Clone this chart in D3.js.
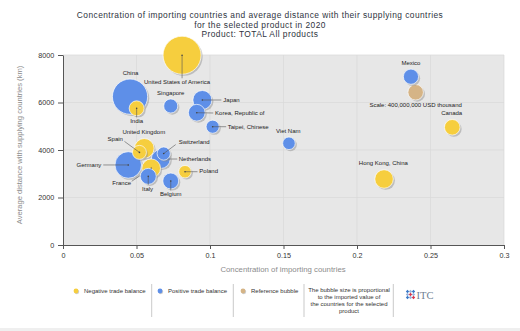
<!DOCTYPE html>
<html><head><meta charset="utf-8">
<script src="https://cdn.jsdelivr.net/npm/d3@7"></script>
<style>
body{margin:0;background:#fff;}
svg{display:block;font-family:"Liberation Sans",Arial,sans-serif;}
</style>
</head><body><svg id="c" width="520" height="331"></svg>
<script>
// ---- data ----
const countries = ["United States of America","China","Germany","Japan","United Kingdom","Netherlands","France","Hong Kong, China","Korea, Republic of","Italy","Belgium","Canada","Mexico","India","Singapore","Spain","Switzerland","Taipei, Chinese","Viet Nam","Poland","Scale: 400,000,000 USD thousand"];
const concentration = [0.081,0.0456,0.0444,0.0948,0.0553,0.0665,0.0600,0.2184,0.0910,0.0580,0.0733,0.2648,0.2367,0.0501,0.0733,0.0520,0.0685,0.1018,0.1537,0.0830,0.2399];
const distance = [7990,6245,3370,6105,4070,3620,3230,2779,5570,2890,2695,4956,7086,5756,5853,3900,3850,4981,4282,3086,6430];
const importValue = [2400,2060,1170,600,640,595,580,570,467,426,420,405,383,370,330,325,290,286,262,260,400]; // billion USD
const balance = ["neg","pos","pos","pos","neg","pos","neg","neg","pos","pos","pos","neg","pos","neg","pos","neg","pos","pos","pos","neg","ref"];
const xTicks = [0,0.05,0.1,0.15,0.2,0.25,0.3];
const yTicks = [0,2000,4000,6000,8000];
const titleLines = ["Concentration of importing countries and average distance with their supplying countries","for the selected product in 2020","Product: TOTAL All products"];
const legendItems = [["neg","Negative trade balance"],["pos","Positive trade balance"],["ref","Reference bubble"]];
const noteLines = ["The bubble size is proportional","to the imported value of","the countries for the selected","product"];

// ---- layout (label placement, px offsets from bubble centre) ----
const labelLayout = {
  "United States of America":{dx:-5,dy:27,a:"middle",l:[0,23]},
  "China":{dx:0.5,dy:-24,a:"middle"},
  "India":{dx:0,dy:12.5,a:"middle",l:[0,9]},
  "Singapore":{dx:0,dy:-13.3,a:"middle"},
  "Japan":{dx:21,dy:0.3,a:"start",l:[19,0]},
  "Korea, Republic of":{dx:18.3,dy:0.3,a:"start",l:[16.5,0.3]},
  "Taipei, Chinese":{dx:15,dy:0,a:"start",l:[13.5,0]},
  "United Kingdom":{dx:-0.5,dy:-16.5,a:"middle"},
  "Spain":{dx:-16.5,dy:-13,a:"end",l:[-15,-11]},
  "Switzerland":{dx:15,dy:-11.5,a:"start",l:[12,-9]},
  "Netherlands":{dx:18,dy:0,a:"start",l:[16.5,0]},
  "Germany":{dx:-27,dy:0,a:"end",l:[-25,0]},
  "France":{dx:-29.5,dy:14.7,a:"middle",l:[-19.5,13]},
  "Italy":{dx:-0.7,dy:12.3,a:"middle",l:[0,8.5]},
  "Belgium":{dx:0,dy:13.3,a:"middle",l:[0,9.5]},
  "Poland":{dx:14.3,dy:-0.5,a:"start",l:[12.5,0]},
  "Viet Nam":{dx:-0.7,dy:-12.6,a:"middle"},
  "Mexico":{dx:0,dy:-13.4,a:"middle"},
  "Scale: 400,000,000 USD thousand":{dx:0,dy:12.7,a:"middle"},
  "Canada":{dx:-0.6,dy:-14.6,a:"middle"},
  "Hong Kong, China":{dx:-0.7,dy:-15.7,a:"middle"}
};
const colors = {neg:"#F6CE3E",pos:"#5E8FE8",ref:"#D5B486"};

const svg = d3.select("#c");
const M = {l:63,r:504,t:55,b:245};
const x = d3.scaleLinear().domain([0,0.3]).range([M.l,M.r]);
const y = d3.scaleLinear().domain([0,8000]).range([M.b,M.t]);
const r = d3.scaleSqrt().domain([0,2400]).range([0,19]);

// title
svg.append("g").selectAll("text").data(titleLines).join("text")
  .attr("x",260).attr("y",(d,i)=>17.8+i*9.8).attr("text-anchor","middle")
  .attr("font-size",8.4).attr("letter-spacing",0.45).attr("fill","#2e3340").text(d=>d);

// plot background
svg.append("rect").attr("x",M.l).attr("y",M.t).attr("width",M.r-M.l).attr("height",M.b-M.t).attr("fill","#e7e7e7");

// grid
svg.append("g").selectAll("line").data(xTicks.slice(1)).join("line")
  .attr("x1",d=>x(d)).attr("x2",d=>x(d)).attr("y1",M.t).attr("y2",M.b)
  .attr("stroke","#d9d9d9").attr("stroke-width",0.7);
svg.append("g").selectAll("line").data(yTicks.slice(1)).join("line")
  .attr("y1",d=>y(d)).attr("y2",d=>y(d)).attr("x1",M.l).attr("x2",M.r)
  .attr("stroke","#d9d9d9").attr("stroke-width",0.7);

// axes
const xAxis = svg.append("g").attr("transform",`translate(0,${M.b})`)
  .call(d3.axisBottom(x).tickValues(xTicks).tickFormat(d=>String(d)).tickSize(4).tickSizeOuter(0));
const yAxis = svg.append("g").attr("transform",`translate(${M.l},0)`)
  .call(d3.axisLeft(y).tickValues(yTicks).tickFormat(d=>String(d)).tickSize(5).tickSizeOuter(0));
[xAxis,yAxis].forEach(g=>{
  g.select(".domain").attr("stroke","#555").attr("stroke-width",1);
  g.selectAll(".tick line").attr("stroke","#555");
  g.selectAll(".tick text").attr("font-family","Liberation Sans, Arial, sans-serif").attr("font-size",7.2).attr("fill","#333");
});
xAxis.selectAll(".tick text").attr("dy","0.9em");
yAxis.selectAll(".tick text").attr("dx","-0.1em");

// axis titles
svg.append("text").attr("x",283).attr("y",272).attr("text-anchor","middle")
  .attr("font-size",7.8).attr("fill","#8c8c8c").text("Concentration of importing countries");
svg.append("text").attr("transform","translate(22,145) rotate(-90)").attr("text-anchor","middle")
  .attr("font-size",7.6).attr("fill","#8c8c8c").text("Average distance with supplying countries (km)");

// bubbles
const data = countries.map((c,i)=>({name:c,cx:concentration[i],cy:distance[i],v:importValue[i],b:balance[i]}));
const ordered = d3.sort(data,(a,b)=>d3.descending(a.v,b.v));
const bg = svg.append("g");
ordered.forEach(d=>{
  const g = bg.append("g").attr("transform",`translate(${x(d.cx)},${y(d.cy)})`);
  const rr = r(d.v);
  g.append("circle").attr("cx",1.6).attr("cy",1.6).attr("r",rr).attr("fill","#8a8a8a").attr("opacity",0.45);
  g.append("circle").attr("r",rr).attr("fill",colors[d.b]).attr("stroke","#ffffff").attr("stroke-opacity",0.85).attr("stroke-width",0.8);
  const L = labelLayout[d.name];
  if(L && L.l){
    g.append("line").attr("x1",0).attr("y1",0).attr("x2",L.l[0]).attr("y2",L.l[1]).attr("stroke","#555").attr("stroke-width",0.6);
    g.append("circle").attr("r",0.8).attr("fill","#444");
  }
});
// labels
svg.append("g").selectAll("text").data(data).join("text")
  .attr("x",d=>x(d.cx)+labelLayout[d.name].dx)
  .attr("y",d=>y(d.cy)+labelLayout[d.name].dy)
  .attr("dy","0.35em")
  .attr("text-anchor",d=>labelLayout[d.name].a)
  .attr("font-size",6).attr("fill","#222").text(d=>d.name);

// legend
const lg = svg.append("g");
const legX = [76,160,243];
legendItems.forEach(([k,t],i)=>{
  lg.append("circle").attr("cx",legX[i]+0.8).attr("cy",291.8).attr("r",2.4).attr("fill","#999").attr("opacity",0.5);
  lg.append("circle").attr("cx",legX[i]).attr("cy",291).attr("r",2.4).attr("fill",colors[k]);
  lg.append("text").attr("x",legX[i]+8).attr("y",291).attr("dy","0.35em").attr("font-size",6).attr("fill","#333").text(t);
});
[151.7,233.3,304,393.3].forEach(sx=>{
  lg.append("line").attr("x1",sx).attr("x2",sx).attr("y1",284).attr("y2",317).attr("stroke","#bbb").attr("stroke-width",0.8);
});
lg.selectAll(".note").data(noteLines).join("text").attr("class","note")
  .attr("x",349).attr("y",(d,i)=>290+i*7).attr("dy","0.35em").attr("text-anchor","middle")
  .attr("font-size",6).attr("fill","#333").text(d=>d);

// ITC logo
const logo = lg.append("g").attr("transform","translate(410.5,294.5)");
[[-3,-3,"#3a78c8"],[0,-3,"#9bb6dc"],[3,-3,"#3a78c8"],[-3,0,"#9bb6dc"],[0,0,"#d8334a"],[3,0,"#9bb6dc"],[-3,3,"#3a78c8"],[0,3,"#9bb6dc"],[3,3,"#d8334a"]].forEach(([a,b,c])=>{
  logo.append("rect").attr("x",a-1.2).attr("y",b-1.2).attr("width",2.4).attr("height",2.4).attr("fill",c).attr("transform",`rotate(45 ${a} ${b})`);
});
lg.append("text").attr("x",416.5).attr("y",295).attr("dy","0.35em").attr("font-family","Liberation Serif, serif")
  .attr("font-size",10.5).attr("fill","#6f7f93").text("ITC");

// bottom band
svg.append("rect").attr("x",0).attr("y",328).attr("width",520).attr("height",3).attr("fill","#efefef");
</script>
</body></html>
